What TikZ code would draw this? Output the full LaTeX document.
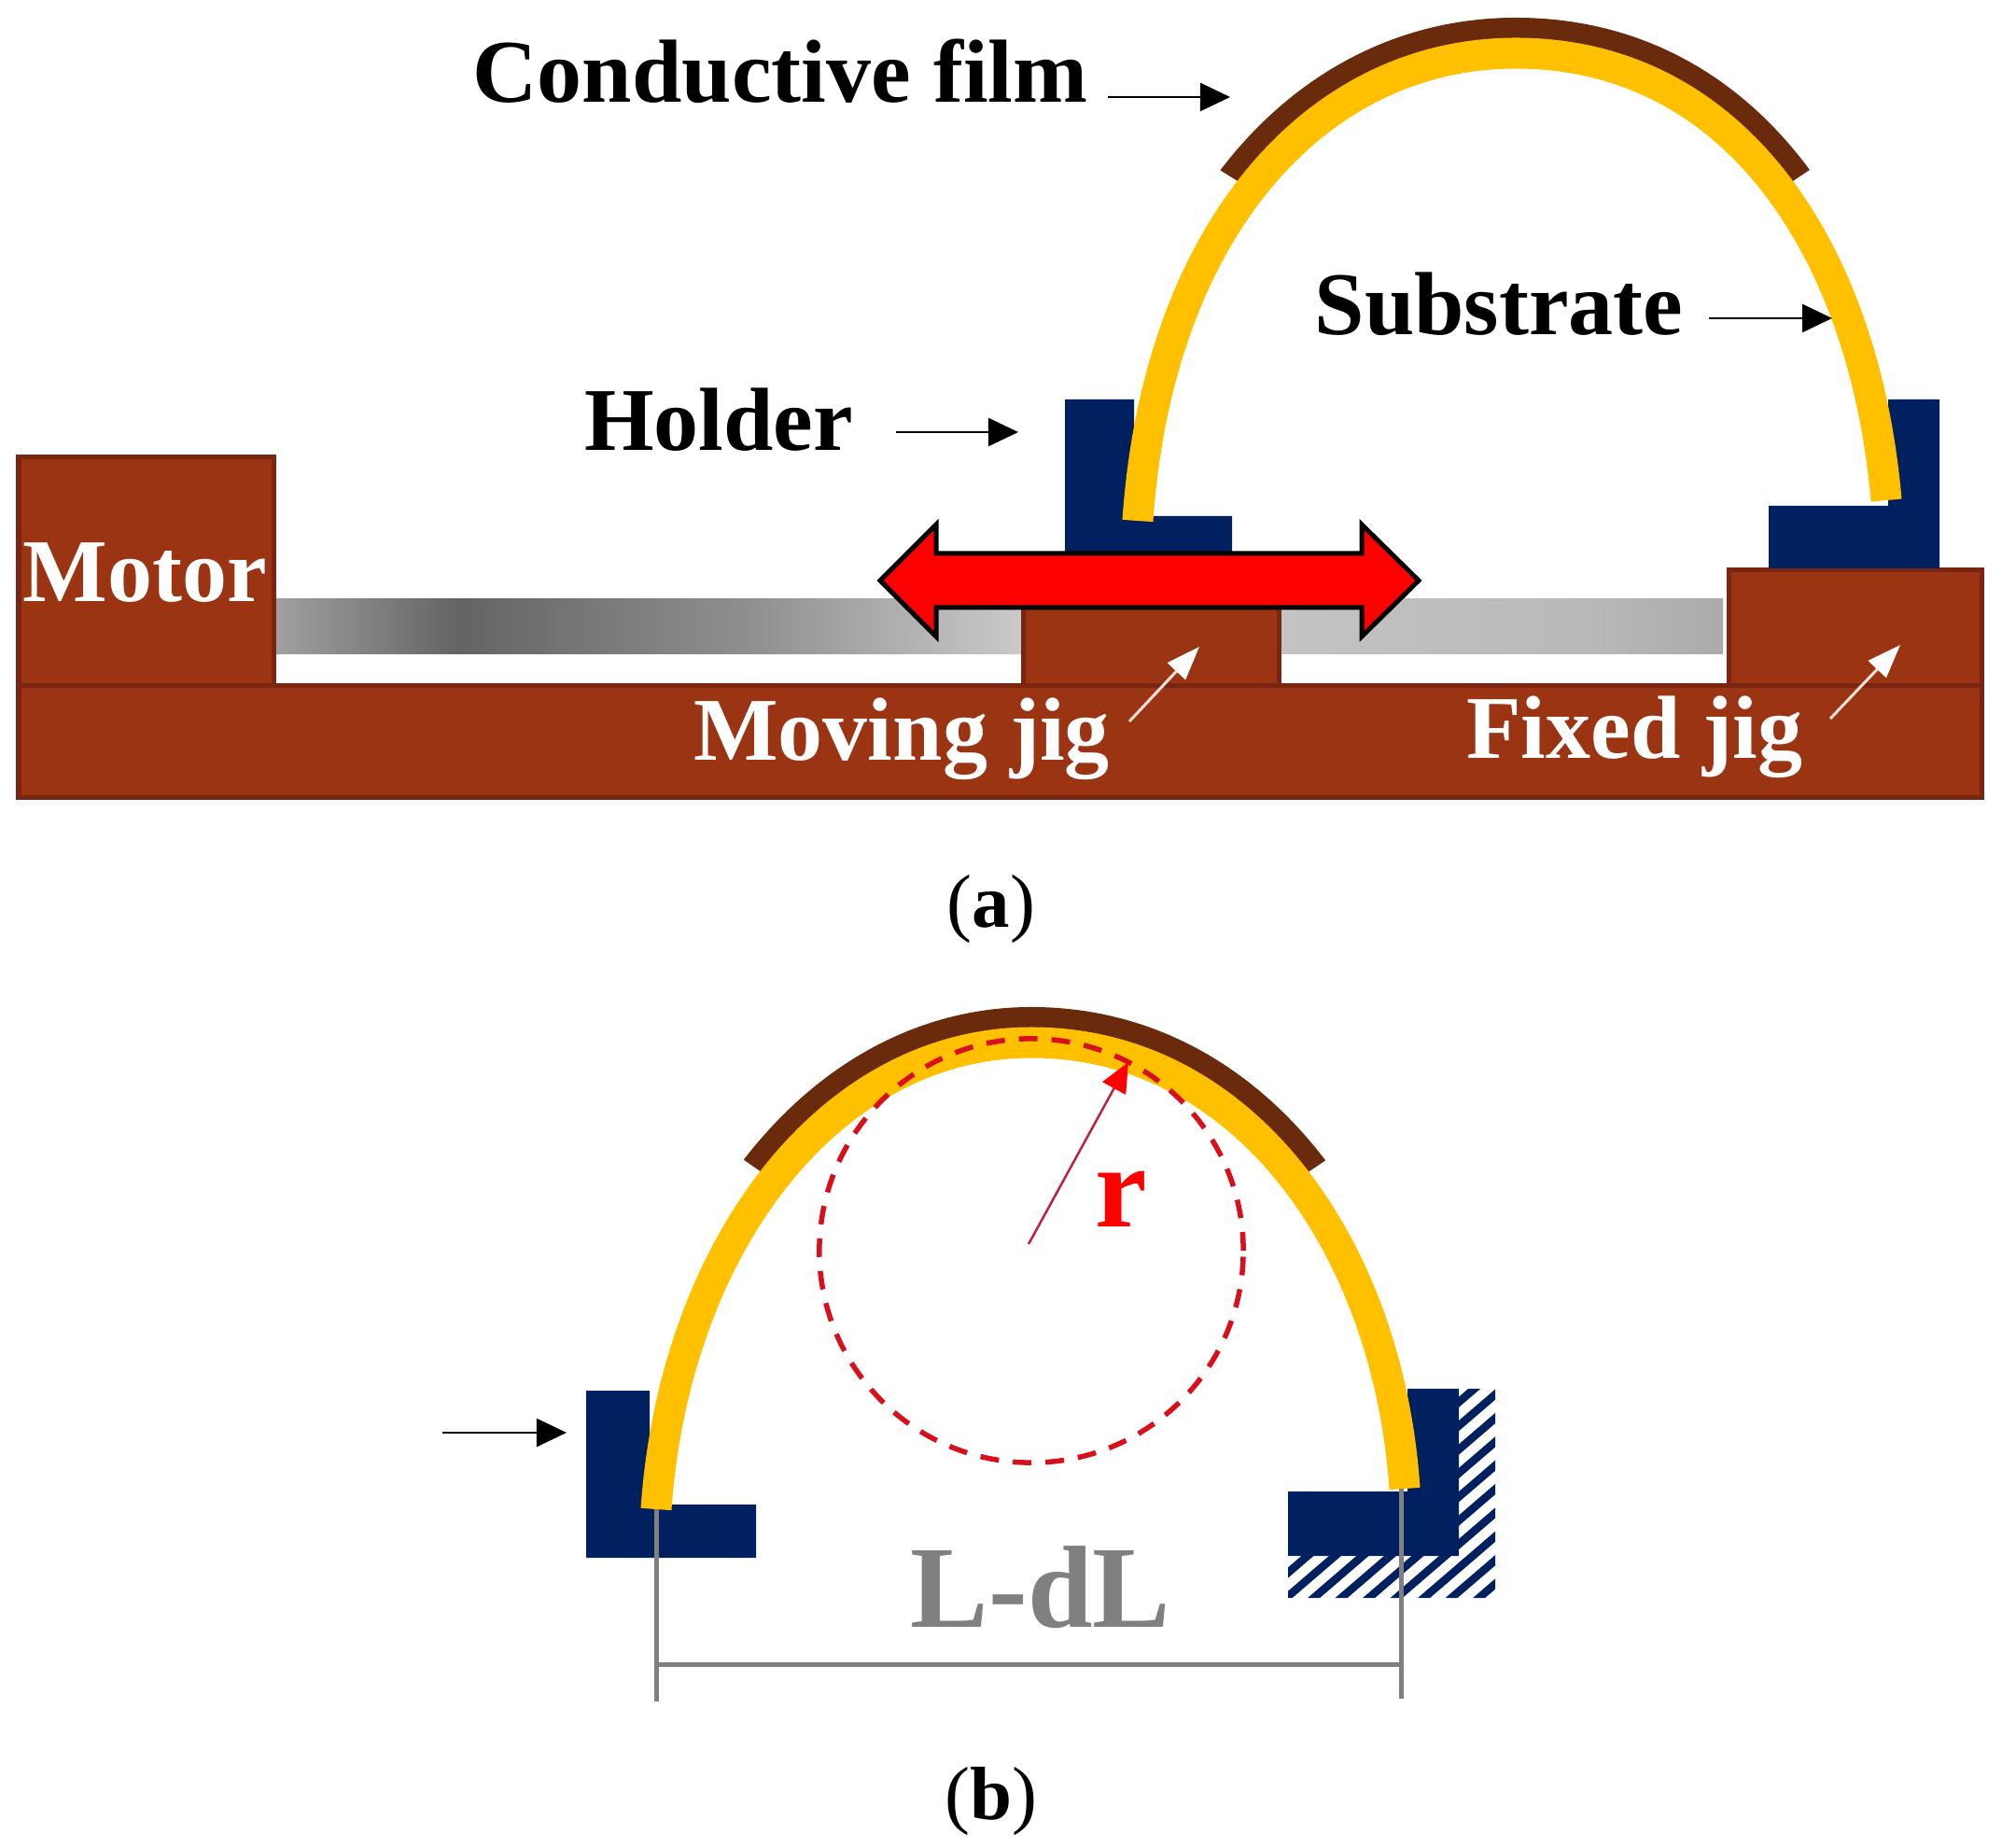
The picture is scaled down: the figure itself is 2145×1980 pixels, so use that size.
\documentclass[tikz,border=0pt]{standalone}
\usepackage{fontspec}
\setmainfont{Liberation Serif}
\usetikzlibrary{arrows.meta}

\definecolor{rust}{HTML}{9A3412}
\definecolor{rustedge}{HTML}{7A2412}
\definecolor{navy}{HTML}{002060}
\definecolor{gold}{HTML}{FFC000}
\definecolor{filmbrown}{HTML}{6A2A0C}
\definecolor{dimgrey}{HTML}{808080}
\definecolor{dashred}{HTML}{D8101C}
\definecolor{radiusline}{HTML}{C0203C}
\definecolor{rodA}{HTML}{A0A0A0}
\definecolor{rodB}{HTML}{646464}
\definecolor{rodC}{HTML}{8F8F8F}
\definecolor{rodD}{HTML}{CACACA}
\definecolor{rodE}{HTML}{C3C3C3}
\definecolor{rodF}{HTML}{B9B9B9}
\definecolor{rodG}{HTML}{AAAAAA}

% rod: the visible part runs from 25bp to 75bp
\pgfdeclarehorizontalshading{rodshade}{100bp}{
  color(0bp)=(rodA);
  color(25bp)=(rodA);
  color(31.3bp)=(rodB);
  color(41.3bp)=(rodC);
  color(50.8bp)=(rodD);
  color(59.8bp)=(rodE);
  color(70.3bp)=(rodF);
  color(75bp)=(rodG);
  color(100bp)=(rodG)}

% centre lines of the two bent substrates
\newcommand{\domeA}{(1219,558) .. controls (1240,250) and (1408,57) .. (1624,57)
    .. controls (1860,57) and (1998,270) .. (2021,536)}
\newcommand{\domeB}{(703,1617) .. controls (722,1340) and (886,1117) .. (1105,1117)
    .. controls (1336,1117) and (1488,1340) .. (1505,1595)}

\begin{document}
\begin{tikzpicture}[
    x=0.01cm, y=-0.01cm,
    jig/.style={draw=rustedge, fill=rust, line width=0.05cm},
    holder/.style={fill=navy},
    substrate/.style={draw=gold, line width=0.33cm},
    film/.style={draw=filmbrown, line width=0.76cm},
    label/.style={anchor=base, inner sep=0pt, font=\fontsize{27.3}{32}\selectfont\bfseries},
    sublabel/.style={anchor=base, inner sep=0pt, font=\fontsize{23}{28}\selectfont},
    bigbold/.style={anchor=base, inner sep=0pt, font=\fontsize{35.6}{40}\selectfont\bfseries},
    pointer/.style={draw=black, line width=0.025cm, -{Triangle[length=0.32cm,width=0.3cm]}},
    whitepointer/.style={draw=white!85!rust, line width=0.03cm, -{Triangle[length=0.36cm,width=0.26cm,fill=white,color=white]}},
    dimline/.style={draw=dimgrey, line width=0.05cm}
]
\useasboundingbox (0,0) rectangle (2145,1980);

%% (a) apparatus
\shade[shading=rodshade] (295,642) rectangle (1846,701);

\draw[jig] (20,490) rectangle (293,735);
\draw[jig] (1096,640) rectangle (1370,735);
\draw[jig] (1852,611) rectangle (2123,735);
\draw[jig] (20,735) rectangle (2123,855);

\fill[holder] (1141,428) -- (1215,428) -- (1215,553) -- (1320,553) -- (1320,600) -- (1141,600) -- cycle;
\fill[holder] (2023,428) -- (2078,428) -- (2078,609) -- (1895,609) -- (1895,542) -- (2023,542) -- cycle;

\begin{scope}
  \clip (1166,94) -- (1502,304) -- (1765,298) -- (2080,88) -- (2080,-50) -- (1166,-50) -- cycle;
  \clip \domeA -- (2145,536) -- (2145,-50) -- (0,-50) -- (0,558) -- cycle;
  \draw[film] \domeA;
\end{scope}
\draw[substrate] \domeA;

\draw[draw=black, fill=red, line width=0.05cm, line join=miter]
    (943,622) -- (1003,562) -- (1003,593) -- (1459,593) -- (1459,562) -- (1520,622)
    -- (1459,682) -- (1459,651) -- (1003,651) -- (1003,682) -- cycle;

\node[label] (conductive) at (836,110) {Conductive film};
\node[label] (substr) at (1606,359) {Substrate};
\node[label] (holdertxt) at (770,483) {Holder};
\node[label, text=white] (motor) at (155,645) {Motor};
\node[label, text=white] (moving) at (966,815) {Moving jig};
\node[label, text=white] (fixed) at (1751,813) {Fixed jig};
\node[sublabel] (capa) at (1062,994) {(\textbf{a})};

\coordinate (cfs) at (1187,104);
\coordinate (cfe) at (1318,104);
\coordinate (sbs) at (1831,341);
\coordinate (sbe) at (1963,341);
\coordinate (hds) at (960,463);
\coordinate (hde) at (1091,463);
\coordinate (mvs) at (1210,773);
\coordinate (mve) at (1285,693);
\coordinate (fxs) at (1961,770);
\coordinate (fxe) at (2036,691);
\draw[pointer] (cfs) -- (cfe);
\draw[pointer] (sbs) -- (sbe);
\draw[pointer] (hds) -- (hde);
\draw[whitepointer] (mvs) -- (mve);
\draw[whitepointer] (fxs) -- (fxe);

%% (b) bent state
\begin{scope}
  \clip (1380,1667) -- (1380,1712) -- (1602,1712) -- (1602,1488) -- (1563,1488) -- (1563,1667) -- cycle;
  \foreach \k in {-2,...,8}
    \draw[navy, line width=0.085cm] ({1344+29.5*\k},1716) -- ({1344+29.5*\k+300},{1716-258});
\end{scope}

\fill[holder] (628,1490) -- (696,1490) -- (696,1612) -- (810,1612) -- (810,1669) -- (628,1669) -- cycle;
\fill[holder] (1508,1488) -- (1563,1488) -- (1563,1667) -- (1380,1667) -- (1380,1598) -- (1508,1598) -- cycle;

\begin{scope}
  \clip (646,1139) -- (982,1370) -- (1250,1357) -- (1560,1150) -- (1560,1000) -- (646,1000) -- cycle;
  \clip \domeB -- (2145,1595) -- (2145,1000) -- (0,1000) -- (0,1617) -- cycle;
  \draw[film] \domeB;
\end{scope}
\draw[substrate] \domeB;

\draw[dashred, line width=0.055cm, dash pattern=on 0.2cm off 0.15cm] (1105,1340) circle[radius=2.27cm];

\coordinate (rs) at (1102,1333);
\coordinate (re) at (1209,1138);
\draw[radiusline, line width=0.025cm, -{Triangle[length=0.32cm,width=0.28cm,fill=red,color=red]}] (rs) -- (re);
\node[bigbold, text=red] (rtxt) at (1201,1315) {r};

\coordinate (lt) at (703,1617);
\coordinate (lb) at (703,1823);
\coordinate (rt) at (1501,1595);
\coordinate (rb) at (1501,1820);
\coordinate (dl) at (703,1783);
\coordinate (dr) at (1501,1783);
\draw[dimline] (lt) -- (lb);
\draw[dimline] (rt) -- (rb);
\draw[dimline] (dl) -- (dr);
\node[bigbold, text=dimgrey] (ldl) at (1115,1743) {L-dL};

\coordinate (hbs) at (474,1535);
\coordinate (hbe) at (607,1535);
\draw[pointer] (hbs) -- (hbe);

\node[sublabel] (capb) at (1062,1949) {(\textbf{b})};
\end{tikzpicture}
\end{document}
